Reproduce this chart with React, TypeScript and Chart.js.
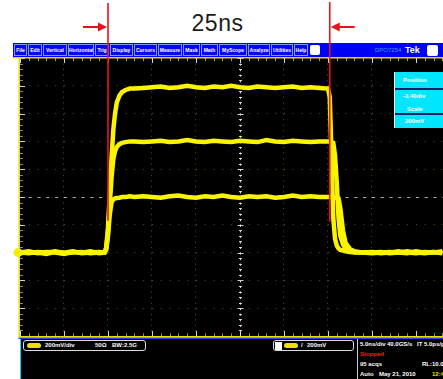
import React, { useEffect, useRef } from 'react';
import { Chart, registerables } from 'chart.js';

Chart.register(...registerables);

// ---- data (time in ns, amplitude in V) ----
const timesNs = [
  0, 1, 2, 3, 4, 5, 6, 7, 8, 9,
  9.6, 9.8, 10.0, 10.2, 10.4, 10.6, 10.8, 11.0, 11.3, 11.6, 12.0, 12.5, 13.0,
  14, 15, 16, 17, 18, 19, 20, 21, 22, 23, 24, 25, 26, 27, 28, 29, 30, 31, 32, 33, 34,
  35.0, 35.2, 35.4, 35.6, 35.8, 36.0, 36.2, 36.4, 36.7, 37.0, 37.5, 38.0, 39.0,
  40, 41, 42, 43, 44, 45, 46, 47, 48,
];
const topTraceV = [
  -0.40, -0.39, -0.405, -0.395, -0.40, -0.41, -0.395, -0.40, -0.39, -0.405,
  -0.40, -0.363, -0.22, 0.018, 0.27, 0.48, 0.60, 0.68, 0.73, 0.755, 0.77, 0.78, 0.78,
  0.785, 0.79, 0.795, 0.785, 0.79, 0.80, 0.79, 0.785, 0.795, 0.79, 0.80, 0.79, 0.785, 0.795, 0.79, 0.785, 0.79, 0.795, 0.785, 0.79, 0.785,
  0.78, 0.72, 0.30, -0.15, -0.30, -0.35, -0.37, -0.38, -0.385, -0.39, -0.395, -0.40, -0.40,
  -0.395, -0.405, -0.40, -0.39, -0.40, -0.405, -0.395, -0.40, -0.39,
];
const midTraceV = [
  -0.405, -0.395, -0.40, -0.41, -0.395, -0.40, -0.39, -0.405, -0.40, -0.395,
  -0.40, -0.37, -0.25, -0.054, 0.14, 0.27, 0.33, 0.36, 0.38, 0.39, 0.395, 0.40, 0.40,
  0.395, 0.40, 0.405, 0.395, 0.40, 0.41, 0.40, 0.395, 0.405, 0.40, 0.395, 0.405, 0.40, 0.395, 0.41, 0.40, 0.395, 0.405, 0.40, 0.395, 0.40,
  0.40, 0.40, 0.395, 0.39, 0.30, 0.10, -0.15, -0.28, -0.34, -0.37, -0.385, -0.395, -0.40,
  -0.40, -0.395, -0.405, -0.40, -0.39, -0.40, -0.405, -0.395, -0.40,
];
const lowTraceV = [
  -0.40, -0.405, -0.395, -0.40, -0.39, -0.405, -0.40, -0.395, -0.405, -0.40,
  -0.40, -0.38, -0.28, -0.126, -0.04, -0.018, -0.01, -0.007, -0.005, 0.0, 0.0, 0.005, 0.0,
  0.005, 0.0, -0.005, 0.005, 0.01, 0.0, -0.005, 0.005, 0.0, 0.01, 0.0, -0.005, 0.005, 0.0, 0.005, -0.005, 0.0, 0.01, 0.0, 0.005, 0.0,
  0.0, 0.0, 0.0, 0.0, -0.005, -0.005, -0.01, -0.08, -0.24, -0.33, -0.375, -0.39, -0.40,
  -0.405, -0.40, -0.395, -0.40, -0.405, -0.39, -0.40, -0.395, -0.405,
];
const cursorsNs = [10, 35.2];
const titleText = '25ns';
const channelOffsetV = -0.4;

const menuItems = ['File', 'Edit', 'Vertical', 'Horizontal', 'Trig', 'Display', 'Cursors', 'Measure', 'Mask', 'Math', 'MyScope', 'Analyze', 'Utilities', 'Help'];
const menuWidths = [14, 15, 25, 27, 15, 24, 24, 25, 18, 18, 29, 23, 23, 15];
const sideLabels = ['Position', '-3.40div', 'Scale', '200mV'];

const X_MIN = 0;
const X_MAX = 48.07;
const Y_MIN = -1;
const Y_MAX = 1;

const scopePlugin = {
  id: 'scope',
  beforeDraw(chart: any) {
    const { ctx, chartArea: a } = chart;
    ctx.save();
    ctx.fillStyle = '#000';
    ctx.fillRect(a.left, a.top, a.right - a.left, a.bottom - a.top);
    ctx.restore();
  },
  beforeDatasetsDraw(chart: any) {
    const { ctx, chartArea: a, scales } = chart;
    const x = scales.x;
    const y = scales.y;
    ctx.save();
    const cx = Math.round(x.getPixelForValue(25)) + 0.5;
    const cy = Math.round(y.getPixelForValue(0)) + 0.5;
    ctx.lineWidth = 1;
    ctx.strokeStyle = 'rgba(225,225,225,0.95)';
    ctx.setLineDash([2, 3.56]);
    ctx.beginPath();
    ctx.moveTo(cx, a.top);
    ctx.lineTo(cx, a.bottom);
    ctx.stroke();
    ctx.strokeStyle = 'rgba(190,190,190,0.9)';
    ctx.setLineDash([3, 5.8]);
    ctx.beginPath();
    ctx.moveTo(a.left, cy);
    ctx.lineTo(a.right, cy);
    ctx.stroke();
    ctx.setLineDash([]);
    // center-line minor ticks
    ctx.strokeStyle = 'rgba(225,225,225,0.9)';
    ctx.beginPath();
    for (let i = 0; i <= 50; i++) {
      const v = Y_MIN + i * 0.04;
      const py = Math.round(y.getPixelForValue(v)) + 0.5;
      const l = i % 5 === 0 ? 3 : 1.5;
      ctx.moveTo(cx - l, py);
      ctx.lineTo(cx + l, py);
    }
    ctx.stroke();
    // edge ticks: top / bottom
    for (let t = 0; t <= 48; t++) {
      const px = Math.round(x.getPixelForValue(t)) + 0.5;
      const major = t % 5 === 0;
      ctx.strokeStyle = major ? '#d8d8d8' : '#9a9a9a';
      ctx.beginPath();
      ctx.moveTo(px, a.top);
      ctx.lineTo(px, a.top + (major ? 5 : 3));
      ctx.stroke();
      ctx.strokeStyle = major ? '#d8d8d8' : '#9a8a8a';
      ctx.beginPath();
      ctx.moveTo(px, a.bottom);
      ctx.lineTo(px, a.bottom - (major ? 5 : 3));
      ctx.stroke();
      ctx.fillStyle = '#d03030';
      if (!major) ctx.fillRect(px - 0.5, a.bottom - 3, 1, 1);
    }
    // left ticks
    for (let i = 0; i <= 50; i++) {
      const v = Y_MIN + i * 0.04;
      const py = Math.round(y.getPixelForValue(v)) + 0.5;
      const major = i % 5 === 0;
      ctx.strokeStyle = major ? '#d0d0d0' : '#a07878';
      ctx.beginPath();
      ctx.moveTo(a.left, py);
      ctx.lineTo(a.left + (major ? 5 : 3), py);
      ctx.stroke();
    }
    ctx.restore();
  },
  afterDraw(chart: any) {
    const { ctx, chartArea: a, scales } = chart;
    const x = scales.x;
    const y = scales.y;
    ctx.save();
    // frame
    ctx.fillStyle = '#e8e000';
    ctx.fillRect(13, a.top - 1, a.right - 13, 1.5);
    ctx.fillRect(a.left - 1.5, a.top, 1.5, a.bottom - a.top);
    ctx.fillRect(a.left - 1.5, a.bottom, a.right - a.left + 1.5, 1.5);
    ctx.fillStyle = '#2a3cff';
    ctx.fillRect(a.left - 1.5, a.bottom + 1.5, a.right - a.left + 1.5, 1.5);
    // channel marker
    const my = y.getPixelForValue(channelOffsetV);
    ctx.fillStyle = '#f4ee00';
    ctx.beginPath();
    ctx.arc(a.left - 2, my, 4.5, 0, Math.PI * 2);
    ctx.fill();
    // cursors
    const red = '#e5141c';
    ctx.strokeStyle = red;
    ctx.fillStyle = red;
    ctx.lineWidth = 1.6;
    const endY = y.getPixelForValue(-0.17);
    const p1 = x.getPixelForValue(cursorsNs[0]);
    const p2 = x.getPixelForValue(cursorsNs[1]);
    ctx.beginPath();
    ctx.moveTo(p1, 3);
    ctx.lineTo(p1, endY);
    ctx.moveTo(p2, 2);
    ctx.lineTo(p2, endY + 1);
    ctx.stroke();
    // arrows
    const ay = 27;
    ctx.lineWidth = 2;
    ctx.beginPath();
    ctx.moveTo(p1 - 25, ay);
    ctx.lineTo(p1 - 8, ay);
    ctx.moveTo(p2 + 25, ay);
    ctx.lineTo(p2 + 8, ay);
    ctx.stroke();
    ctx.beginPath();
    ctx.moveTo(p1 - 1, ay);
    ctx.lineTo(p1 - 10, ay - 4.5);
    ctx.lineTo(p1 - 10, ay + 4.5);
    ctx.closePath();
    ctx.fill();
    ctx.beginPath();
    ctx.moveTo(p2 + 1, ay);
    ctx.lineTo(p2 + 10, ay - 4.5);
    ctx.lineTo(p2 + 10, ay + 4.5);
    ctx.closePath();
    ctx.fill();
    ctx.restore();
  },
};

const small: React.CSSProperties = {
  position: 'absolute',
  fontFamily: '"Liberation Sans", Arial, sans-serif',
  fontSize: 6,
  fontWeight: 700,
  color: '#fff',
  whiteSpace: 'nowrap',
  lineHeight: '7px',
};

export default function App() {
  const canvasRef = useRef<HTMLCanvasElement | null>(null);

  useEffect(() => {
    const canvas = canvasRef.current;
    if (!canvas) return;
    const mk = (vals: number[]) => timesNs.map((t, i) => ({ x: t, y: vals[i] }));
    const ds = (vals: number[]) => ({
      data: mk(vals),
      borderColor: '#fbf400',
      borderWidth: 4.5,
      pointRadius: 0,
      tension: 0,
      fill: false,
    });
    const chart = new Chart(canvas, {
      type: 'line',
      data: { datasets: [ds(lowTraceV), ds(midTraceV), ds(topTraceV)] as any },
      options: {
        animation: false,
        responsive: false,
        maintainAspectRatio: false,
        events: [],
        layout: { padding: { left: 20, top: 58, right: 0, bottom: 43 } },
        plugins: { legend: { display: false }, tooltip: { enabled: false }, title: { display: false } },
        scales: {
          x: {
            type: 'linear',
            min: X_MIN,
            max: X_MAX,
            ticks: { display: false, stepSize: 5 },
            grid: { color: 'rgba(95,95,45,0.85)', lineWidth: 1, drawTicks: false },
            border: { display: false, dash: [1, 4.56] },
          },
          y: {
            type: 'linear',
            min: Y_MIN,
            max: Y_MAX,
            ticks: { display: false, stepSize: 0.2 },
            grid: { color: 'rgba(95,95,45,0.85)', lineWidth: 1, drawTicks: false },
            border: { display: false, dash: [1, 7.8] },
          },
        },
      } as any,
      plugins: [scopePlugin],
    });
    return () => chart.destroy();
  }, []);

  let mx = 1;
  const menu = menuItems.map((m, i) => {
    const left = mx;
    mx += menuWidths[i];
    return (
      <div
        key={m}
        style={{
          position: 'absolute',
          left,
          top: 1,
          width: menuWidths[i] - 1,
          height: 12,
          boxSizing: 'border-box',
          border: '1px solid #7f95ff',
          background: '#0808ee',
          color: '#fff',
          fontFamily: '"Liberation Sans", Arial, sans-serif',
          fontSize: 5,
          fontWeight: 700,
          textAlign: 'center',
          lineHeight: '10px',
          overflow: 'hidden',
          whiteSpace: 'nowrap',
        }}
      >
        {m}
      </div>
    );
  });

  return (
    <div style={{ position: 'fixed', left: 0, top: 0, width: 443, height: 379, background: '#fff', overflow: 'hidden' }}>
      <div
        style={{
          position: 'absolute',
          left: 0,
          top: 12,
          width: 435,
          textAlign: 'center',
          fontFamily: '"Liberation Sans", Arial, sans-serif',
          fontSize: 23,
          lineHeight: '23px',
          color: '#1c1c1c',
          letterSpacing: 0.5,
        }}
      >
        {titleText}
      </div>
      <div style={{ position: 'absolute', left: 13, top: 43, width: 430, height: 14, background: '#0000f4' }}>
        {menu}
        <div style={{ position: 'absolute', left: 297, top: 2, width: 10, height: 10, background: '#fff', borderRadius: 2 }} />
        <div style={{ ...small, left: 362, top: 4, color: '#3aa0ff', fontWeight: 400 }}>DPO7254</div>
        <div style={{ ...small, left: 392, top: 2, fontSize: 9, lineHeight: '10px' }}>Tek</div>
        <div style={{ position: 'absolute', left: 414, top: 2, width: 11, height: 11, background: '#fff', borderRadius: 2 }} />
      </div>
      <canvas ref={canvasRef} width={443} height={379} style={{ position: 'absolute', left: 0, top: 0, width: 443, height: 379 }} />
      {/* side menu */}
      <div style={{ position: 'absolute', left: 394, top: 72, width: 49, height: 56, background: '#00e6ff', borderLeft: '1px solid #fff', boxSizing: 'border-box' }}>
        <div style={{ ...small, left: 8, top: 5 }}>{sideLabels[0]}</div>
        <div style={{ position: 'absolute', left: 0, top: 16, width: 49, height: 2, background: '#102060' }} />
        <div style={{ ...small, left: 8, top: 21 }}>{sideLabels[1]}</div>
        <div style={{ ...small, left: 12, top: 34 }}>{sideLabels[2]}</div>
        <div style={{ position: 'absolute', left: 0, top: 41, width: 49, height: 2, background: '#102060' }} />
        <div style={{ ...small, left: 10, top: 46 }}>{sideLabels[3]}</div>
      </div>
      {/* bottom readout */}
      <div style={{ position: 'absolute', left: 20, top: 339, width: 423, height: 40, background: '#000', borderLeft: '1px solid #00d0ff', boxSizing: 'border-box' }}>
        <div style={{ position: 'absolute', left: 2, top: 1, width: 123, height: 11, border: '1px solid #ddd', borderRadius: 3, boxSizing: 'border-box' }}>
          <div style={{ position: 'absolute', left: 3, top: 2, width: 14, height: 5, background: '#f0e000', borderRadius: 3 }} />
          <div style={{ ...small, left: 21, top: 1 }}>200mV/div</div>
          <div style={{ ...small, left: 71, top: 1 }}>50Ω</div>
          <div style={{ ...small, left: 88, top: 1 }}>BW:2.5G</div>
        </div>
        <div style={{ position: 'absolute', left: 252, top: 1, width: 81, height: 11, border: '1px solid #ddd', borderRadius: 3, boxSizing: 'border-box' }}>
          <div style={{ position: 'absolute', left: 1, top: 1, width: 7, height: 8, background: '#fff' }} />
          <div style={{ position: 'absolute', left: 10, top: 2, width: 14, height: 5, background: '#f0e000', borderRadius: 3 }} />
          <div style={{ ...small, left: 27, top: 1 }}>/</div>
          <div style={{ ...small, left: 33, top: 1 }}>200mV</div>
        </div>
        <div style={{ position: 'absolute', left: 336, top: 0, width: 1, height: 40, background: '#ccc' }} />
        <div style={{ ...small, left: 339, top: 2 }}>5.0ns/div</div>
        <div style={{ ...small, left: 366, top: 2 }}>40.0GS/s</div>
        <div style={{ ...small, left: 396, top: 2 }}>IT</div>
        <div style={{ ...small, left: 403, top: 2 }}>5.0ps/pt</div>
        <div style={{ ...small, left: 339, top: 12, color: '#ff1a1a' }}>Stopped</div>
        <div style={{ ...small, left: 339, top: 22 }}>95 acqs</div>
        <div style={{ ...small, left: 401, top: 22 }}>RL:10.0k</div>
        <div style={{ ...small, left: 339, top: 32 }}>Auto</div>
        <div style={{ ...small, left: 358, top: 32 }}>May 21, 2010</div>
        <div style={{ ...small, left: 411, top: 32, color: '#f0e000' }}>12:45:06</div>
      </div>
    </div>
  );
}
